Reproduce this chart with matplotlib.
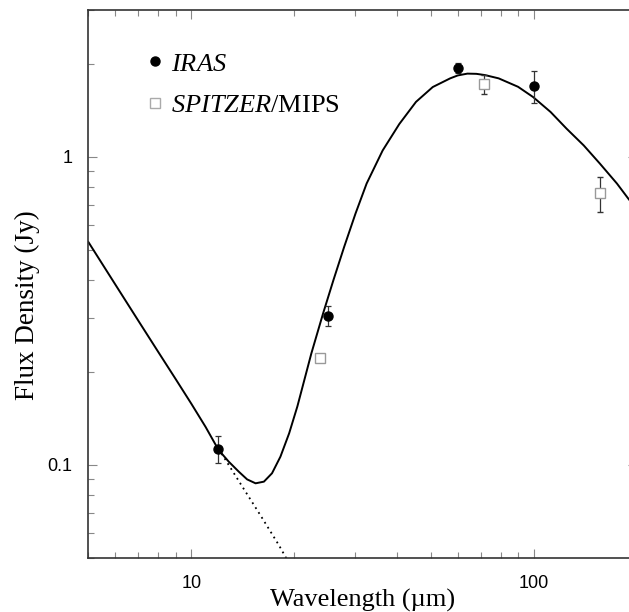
import matplotlib
matplotlib.use("Agg")
import matplotlib.pyplot as plt
from matplotlib.lines import Line2D
from matplotlib.ticker import NullFormatter

plt.rcParams['font.family'] = 'Liberation Sans'
plt.rcParams['mathtext.fontset'] = 'custom'
plt.rcParams['mathtext.rm'] = 'Liberation Serif'
plt.rcParams['mathtext.it'] = 'Liberation Serif:italic'

# IRAS photometry (Jy)
iras_wave = [12, 25, 60, 100]
iras_flux = [0.113, 0.305, 1.95, 1.70]
iras_err = [0.0115, 0.023, 0.075, 0.20]

# Spitzer/MIPS photometry (Jy)
mips_wave = [23.7, 71.4, 156]
mips_flux = [0.222, 1.72, 0.764]
mips_err = [0.004, 0.12, 0.10]

# total model (photosphere + dust)
model_wave = [5, 6, 7, 8, 9, 10, 11, 12, 12.86, 13.76, 14.55, 15.4, 16.29,
              17.2, 18.2, 19.3, 20.4, 22.41, 24.25, 25.99, 27.94, 30.16,
              32.5, 36.2, 40.5, 45.3, 50.7, 57, 60, 64, 68, 72, 79, 90,
              99.6, 112, 124.7, 140, 156, 175, 188.8, 200]
model_flux = [0.53, 0.385, 0.294, 0.233, 0.190, 0.158, 0.133, 0.112, 0.1025,
              0.0951, 0.0898, 0.0872, 0.0883, 0.094, 0.1064, 0.1267, 0.155,
              0.2303, 0.3105, 0.398, 0.5105, 0.6553, 0.82, 1.05, 1.28, 1.51,
              1.687, 1.80, 1.84, 1.865, 1.862, 1.845, 1.80, 1.69, 1.565,
              1.40, 1.236, 1.09, 0.952, 0.82, 0.733, 0.677]

# photosphere alone
star_wave = [12, 14, 16, 18, 19.5]
star_flux = [0.113, 0.086, 0.068, 0.055, 0.047]

fig = plt.figure(figsize=(6.29, 6.12), dpi=100)
ax = fig.add_axes([0.1404, 0.0887, 0.8720, 0.8949])
ax.set_xscale('log')
ax.set_yscale('log')

ax.plot(model_wave, model_flux, color='k', lw=1.4, zorder=2)
ax.plot(star_wave, star_flux, color='k', lw=1.3, ls=(0, (1, 2.2)), zorder=2)

ax.errorbar(iras_wave, iras_flux, yerr=iras_err, fmt='o', color='k', ms=6.5,
            ecolor='#333333', elinewidth=0.9, capsize=2.5, capthick=0.9, zorder=4)
ax.errorbar(mips_wave, mips_flux, yerr=mips_err, fmt='s', mfc='white',
            mec='#999999', mew=1.0, ms=7, ecolor='#333333', elinewidth=0.9,
            capsize=2.5, capthick=0.9, zorder=3)

ax.set_xlim(5, 200)
ax.set_ylim(0.05, 3)

ax.set_xticks([10, 100])
ax.set_xticklabels(['10', '100'])
ax.set_yticks([0.1, 1])
ax.set_yticklabels(['0.1', '1'])
ax.xaxis.set_minor_formatter(NullFormatter())
ax.yaxis.set_minor_formatter(NullFormatter())

ax.tick_params(which='both', direction='in', top=True, right=True,
               color='#888888', width=0.8, labelsize=13)
ax.tick_params(which='major', length=6.5)
ax.tick_params(which='minor', length=4.3)
ax.tick_params(axis='x', pad=12.5)
ax.tick_params(axis='y', pad=11.5)

for s in ax.spines.values():
    s.set_color('#333333')
    s.set_linewidth(1.2)

handles = [Line2D([], [], marker='o', color='k', ls='none', ms=6.5),
           Line2D([], [], marker='s', mfc='white', mec='#aaaaaa', ls='none', ms=6.5)]
labels = [r'$\mathit{IRAS}$', r'$\mathit{SPITZER}$/MIPS']
ax.legend(handles, labels, loc='upper left', bbox_to_anchor=(0.1098, 0.9233),
          frameon=False, borderpad=0, borderaxespad=0, handlelength=0.5,
          handletextpad=0.35, labelspacing=0.69,
          prop={'family': 'Liberation Serif', 'size': 19})

fig.text(27 / 629, 1 - 305 / 612, 'Flux Density (Jy)', rotation=90,
         ha='center', va='center', family='Liberation Serif', size=19.5)
fig.text(363 / 629, 1 - 606.5 / 612, 'Wavelength (\u00b5m)', ha='center',
         va='baseline', family='Liberation Serif', size=19)

fig.savefig('out.png', dpi=100)
